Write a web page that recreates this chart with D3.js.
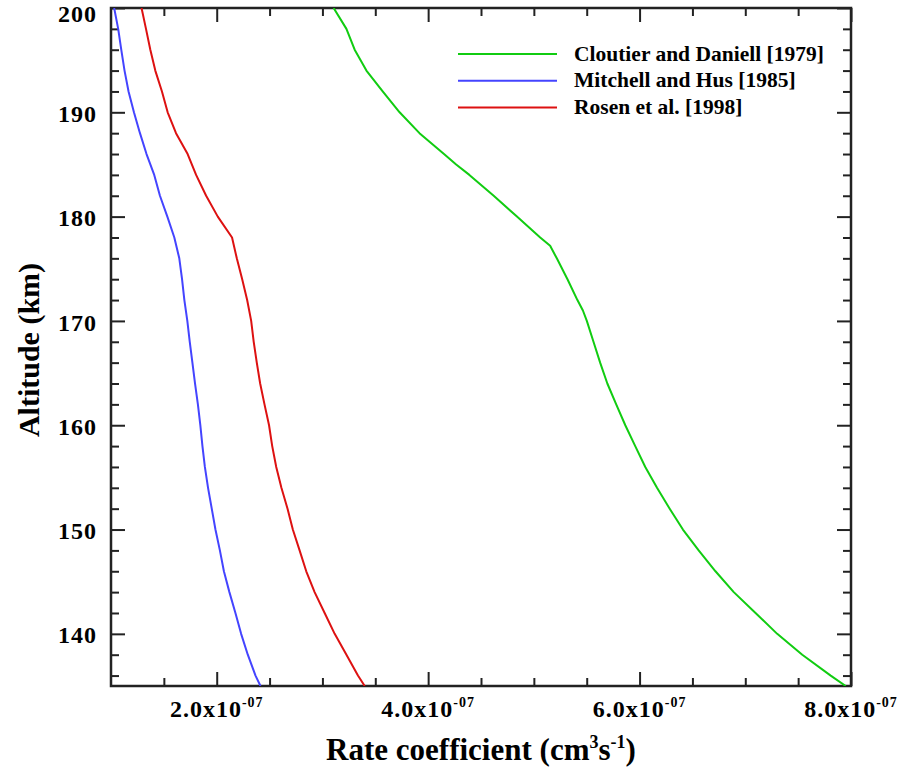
<!DOCTYPE html>
<html>
<head>
<meta charset="utf-8">
<script src="https://cdn.jsdelivr.net/npm/d3@7/dist/d3.min.js"></script>
<style>
  html, body { margin: 0; padding: 0; background: #fff; }
  svg { display: block; }
  text { font-family: "Liberation Serif", "Times New Roman", serif; font-weight: bold; fill: #000; }
</style>
</head>
<body>
<svg id="chart" width="899" height="771"></svg>
<script>
// ---- data (rate coefficients in units of 1e-7 cm^3 s^-1) ----
const UNIT = 1e-7;
const altitudes = [200,198,196,194,192,190,188,186,184,182,180,178,176,174,172,170,168,166,164,162,160,158,156,154,152,150,148,146,144,142,140,138,136,135];
const mitchellHus = [1.030,1.068,1.097,1.128,1.166,1.217,1.274,1.336,1.409,1.463,1.533,1.599,1.646,1.672,1.694,1.722,1.745,1.770,1.795,1.822,1.845,1.865,1.888,1.918,1.953,1.988,2.030,2.068,2.120,2.177,2.231,2.294,2.367,2.414];
const rosen = [1.289,1.331,1.372,1.419,1.482,1.536,1.615,1.725,1.805,1.900,2.010,2.145,2.190,2.241,2.288,2.326,2.350,2.379,2.411,2.452,2.495,2.525,2.563,2.612,2.670,2.720,2.784,2.847,2.926,3.021,3.116,3.227,3.336,3.400];
const cloutierAltitudes = [200,198,196,194,192,190,188,186,185,184,182,180,178,177.2,176,174,172,171,170,168,166,164,162,160,158,156,154,152,150,148,146,144,142,140,138,136,135];
const cloutier = [3.106,3.227,3.305,3.416,3.570,3.730,3.918,4.150,4.265,4.390,4.620,4.840,5.060,5.154,5.217,5.318,5.412,5.464,5.501,5.564,5.627,5.695,5.779,5.865,5.959,6.054,6.165,6.285,6.410,6.559,6.718,6.891,7.097,7.302,7.539,7.808,7.950];

const seriesNames = ["Cloutier and Daniell [1979]", "Mitchell and Hus [1985]", "Rosen et al. [1998]"];
const seriesColors = ["#11cc11", "#4444ff", "#dd1111"];

const xMajorTicks = [2, 4, 6, 8];          // x 1e-7
const xTickMantissa = ["2.0", "4.0", "6.0", "8.0"];
const xTickExponent = "-07";
const yMajorTicks = [140, 150, 160, 170, 180, 190, 200];

// ---- layout ----
const svg = d3.select("#chart");
const L = 111, R = 851, T = 8, B = 686;

const x = d3.scaleLinear().domain([1 * UNIT, 8 * UNIT]).range([L, R]);
const y = d3.scaleLinear().domain([135, 200]).range([B, T]);

const xMinor = d3.range(1.5, 8.0, 0.5).map(v => v * UNIT).filter(v => !xMajorTicks.some(m => Math.abs(m * UNIT - v) < 1e-12));
const yMinor = d3.range(136, 200, 2).filter(v => v % 10 !== 0);

const axisColor = "#222";
function styleAxis(g) {
  g.select(".domain").remove();
  g.selectAll(".tick line").attr("stroke", axisColor).attr("stroke-width", 2);
}

// minor + major ticks on all four sides (inward)
svg.append("g").attr("transform", `translate(0,${B})`)
  .call(d3.axisBottom(x).tickValues(xMinor).tickSize(-8).tickFormat(""))
  .call(styleAxis);
svg.append("g").attr("transform", `translate(0,${B})`)
  .call(d3.axisBottom(x).tickValues(xMajorTicks.map(v => v * UNIT)).tickSize(-14).tickFormat(""))
  .call(styleAxis);
svg.append("g").attr("transform", `translate(0,${T})`)
  .call(d3.axisTop(x).tickValues(xMinor).tickSize(-8).tickFormat(""))
  .call(styleAxis);
svg.append("g").attr("transform", `translate(0,${T})`)
  .call(d3.axisTop(x).tickValues(xMajorTicks.map(v => v * UNIT)).tickSize(-14).tickFormat(""))
  .call(styleAxis);

svg.append("g").attr("transform", `translate(${L},0)`)
  .call(d3.axisLeft(y).tickValues(yMinor).tickSize(-8).tickFormat(""))
  .call(styleAxis);
const yAx = svg.append("g").attr("transform", `translate(${L},0)`)
  .call(d3.axisLeft(y).tickValues(yMajorTicks).tickSize(-14).tickPadding(14).tickFormat(d3.format("d")))
  .call(styleAxis);
yAx.selectAll(".tick text")
  .style("font-family", '"Liberation Serif", serif')
  .style("font-weight", "bold")
  .style("font-size", "24px")
  .style("letter-spacing", "1px")
  .attr("fill", "#000")
  .attr("dy", d => d === 200 ? "0.55em" : "0.38em");

svg.append("g").attr("transform", `translate(${R},0)`)
  .call(d3.axisRight(y).tickValues(yMinor).tickSize(-8).tickFormat(""))
  .call(styleAxis);
svg.append("g").attr("transform", `translate(${R},0)`)
  .call(d3.axisRight(y).tickValues(yMajorTicks).tickSize(-14).tickFormat(""))
  .call(styleAxis);

// frame
svg.append("rect").attr("x", L).attr("y", T).attr("width", R - L).attr("height", B - T)
  .attr("fill", "none").attr("stroke", axisColor).attr("stroke-width", 2.5);

// x tick labels with superscript exponent
const xl = svg.append("g");
xMajorTicks.forEach((v, i) => {
  const t = xl.append("text")
    .attr("x", x(v * UNIT))
    .attr("y", 717)
    .attr("text-anchor", "middle")
    .style("font-size", "24px")
    .style("letter-spacing", "1px");
  t.append("tspan").text(xTickMantissa[i] + "x10");
  t.append("tspan").attr("dy", -10).style("font-size", "14px").text(xTickExponent);
});

// curves
const clip = svg.append("defs").append("clipPath").attr("id", "plotclip");
clip.append("rect").attr("x", L).attr("y", T).attr("width", R - L).attr("height", B - T);

const line = d3.line().x(d => x(d[0] * UNIT)).y(d => y(d[1])).curve(d3.curveLinear);
const series = [
  { vals: cloutier, alts: cloutierAltitudes },
  { vals: mitchellHus, alts: altitudes },
  { vals: rosen, alts: altitudes }
];
const curves = svg.append("g").attr("clip-path", "url(#plotclip)");
series.forEach((s, i) => {
  curves.append("path")
    .datum(s.vals.map((v, j) => [v, s.alts[j]]))
    .attr("d", line)
    .attr("fill", "none")
    .attr("stroke", seriesColors[i])
    .attr("stroke-width", 2)
    .attr("stroke-linejoin", "round");
});

// legend
const lg = svg.append("g");
seriesNames.forEach((name, i) => {
  const ly = 54 + i * 26.8;
  lg.append("line").attr("x1", 458).attr("x2", 557).attr("y1", ly).attr("y2", ly)
    .attr("stroke", seriesColors[i]).attr("stroke-width", 2);
  lg.append("text").attr("x", 574).attr("y", ly + 6.5).style("font-size", "21.5px").text(name);
});

// axis titles
const xt = svg.append("text").attr("x", 481).attr("y", 760).attr("text-anchor", "middle").style("font-size", "31px");
xt.append("tspan").text("Rate coefficient (cm");
xt.append("tspan").attr("dy", -12).style("font-size", "18px").text("3");
xt.append("tspan").attr("dy", 12).text("s");
xt.append("tspan").attr("dy", -12).style("font-size", "18px").text("-1");
xt.append("tspan").attr("dy", 12).text(")");

svg.append("text")
  .attr("transform", "translate(39,350) rotate(-90)")
  .attr("text-anchor", "middle")
  .style("font-size", "30px")
  .text("Altitude (km)");
</script>
</body>
</html>
